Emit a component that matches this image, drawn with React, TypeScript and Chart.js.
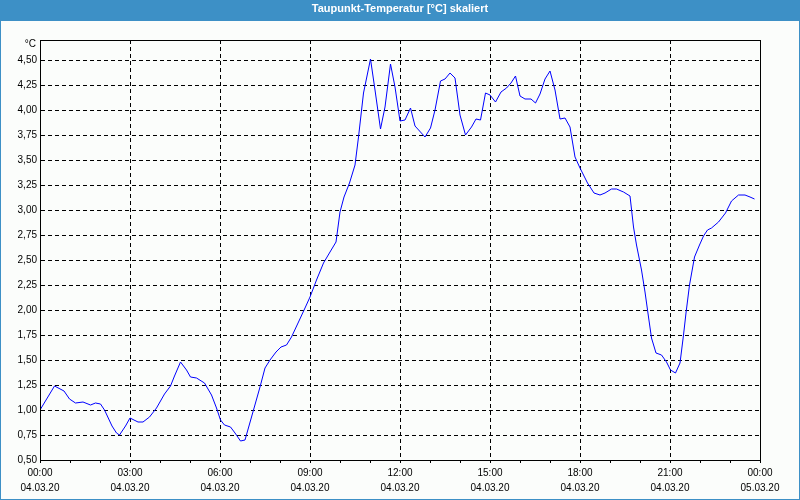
import React, { useEffect, useRef } from "react";
import { Chart, registerables } from "chart.js";

Chart.register(...registerables);

const TITLE = "Taupunkt-Temperatur [°C] skaliert";
const UNIT = "°C";

// minutes since 04.03.20 00:00
const times = [
  0, 29, 48, 59, 71, 86, 101, 111, 121, 129, 144, 153, 159, 171, 180, 196, 206, 219, 233, 249,
  261, 269, 281, 293, 301, 313, 329, 343, 353, 361, 369, 381, 390, 401, 410, 427, 440, 450, 460, 472,
  482, 493, 503, 517, 530, 540, 553, 567, 580, 592, 600, 608, 619, 630, 637, 647, 661, 670, 681, 690,
  701, 710, 720, 730, 741, 750, 770, 781, 790, 801, 810, 820, 830, 840, 851, 863, 872, 881, 891, 900,
  911, 922, 933, 942, 951, 960, 970, 982, 991, 1000, 1010, 1020, 1030, 1040, 1050, 1060, 1070, 1080, 1095, 1108,
  1120, 1130, 1143, 1153, 1167, 1180, 1187, 1193, 1203, 1210, 1217, 1223, 1232, 1243, 1253, 1261, 1271, 1280, 1287, 1292,
  1299, 1309, 1319, 1327, 1335, 1343, 1357, 1371, 1383, 1397, 1410, 1420, 1429,
];

const dewPoint = [
  1.0, 1.24, 1.19, 1.11, 1.07, 1.08, 1.05, 1.07, 1.06, 1.0, 0.84, 0.77, 0.75, 0.84, 0.92, 0.88, 0.88, 0.93, 1.02, 1.16,
  1.24, 1.34, 1.48, 1.4, 1.33, 1.32, 1.27, 1.15, 1.02, 0.9, 0.85, 0.83, 0.77, 0.69, 0.7, 1.0, 1.23, 1.42, 1.5, 1.58,
  1.63, 1.65, 1.73, 1.88, 2.02, 2.13, 2.3, 2.47, 2.58, 2.68, 2.98, 3.13, 3.27, 3.45, 3.73, 4.17, 4.51, 4.2, 3.81, 4.03,
  4.46, 4.23, 3.89, 3.9, 4.02, 3.84, 3.73, 3.82, 4.0, 4.29, 4.31, 4.37, 4.32, 3.95, 3.75, 3.83, 3.91, 3.9, 4.17, 4.15,
  4.08, 4.18, 4.22, 4.27, 4.34, 4.14, 4.11, 4.11, 4.07, 4.16, 4.31, 4.39, 4.2, 3.91, 3.92, 3.83, 3.53, 3.42, 3.27, 3.17,
  3.15, 3.17, 3.21, 3.21, 3.18, 3.14, 2.83, 2.65, 2.4, 2.18, 1.93, 1.72, 1.57, 1.55, 1.48, 1.4, 1.37, 1.47, 1.75, 1.97,
  2.25, 2.53, 2.65, 2.74, 2.8, 2.82, 2.88, 2.97, 3.09, 3.15, 3.15, 3.13, 3.11,
];

const xTickTimes = [0, 180, 360, 540, 720, 900, 1080, 1260, 1440];
const xTickClock = ["00:00", "03:00", "06:00", "09:00", "12:00", "15:00", "18:00", "21:00", "00:00"];
const xTickDates = ["04.03.20", "04.03.20", "04.03.20", "04.03.20", "04.03.20", "04.03.20", "04.03.20", "04.03.20", "05.03.20"];

const FONT = "'Liberation Sans', Arial, sans-serif";
const BAR = "#3d90c6";

export default function App() {
  const ref = useRef<HTMLCanvasElement | null>(null);

  useEffect(() => {
    if (!ref.current) return;
    const framePlugin = {
      id: "frame",
      beforeDraw(chart: any) {
        const c = chart.ctx;
        c.save();
        c.fillStyle = "#fbfdfb";
        c.fillRect(0, 0, chart.width, chart.height);
        c.fillStyle = BAR;
        c.fillRect(0, 0, chart.width, 21);
        c.restore();
      },
      afterDraw(chart: any) {
        const c = chart.ctx;
        const a = chart.chartArea;
        c.save();
        c.strokeStyle = "#000";
        c.lineWidth = 1;
        c.setLineDash([]);
        c.strokeRect(Math.round(a.left) + 0.5, Math.round(a.top) + 0.5, Math.round(a.right - a.left), Math.round(a.bottom - a.top));
        c.strokeStyle = BAR;
        c.strokeRect(0.5, 0.5, chart.width - 1, chart.height - 1);
        c.fillStyle = "#000";
        c.font = `10px ${FONT}`;
        c.textAlign = "right";
        c.textBaseline = "middle";
        c.fillText(UNIT, a.left - 4, a.top + 4);
        c.restore();
      },
    };

    const chart = new Chart(ref.current, {
      type: "line",
      data: {
        datasets: [
          {
            data: times.map((t, i) => ({ x: t, y: dewPoint[i] })),
            borderColor: "#0000ff",
            borderWidth: 1,
            pointRadius: 0,
            tension: 0,
            fill: false,
          },
        ],
      },
      options: {
        animation: false,
        responsive: false,
        devicePixelRatio: 1,
        layout: { padding: 0 },
        plugins: {
          legend: { display: false },
          tooltip: { enabled: false },
          title: {
            display: true,
            text: TITLE,
            color: "#ffffff",
            font: { family: FONT, size: 11, weight: "bold", lineHeight: 1.2 },
            padding: { top: 2.5, bottom: 24.3 },
          },
        },
        scales: {
          x: {
            type: "linear",
            min: 0,
            max: 1440,
            afterFit(scale: any) {
              scale.height = 40;
            },
            afterBuildTicks(scale: any) {
              const ticks = [];
              for (let m = 0; m <= 1440; m += 60) ticks.push({ value: m });
              scale.ticks = ticks;
            },
            ticks: {
              autoSkip: false,
              maxRotation: 0,
              padding: 2,
              color: "#000",
              font: { family: FONT, size: 10, lineHeight: 1.55 },
              callback(value: any) {
                const i = xTickTimes.indexOf(Number(value));
                return i >= 0 ? [xTickClock[i], xTickDates[i]] : "";
              },
            },
            grid: {
              color: (ctx: any) => (ctx.tick && ctx.tick.value % 180 === 0 ? "#000" : "rgba(0,0,0,0)"),
              lineWidth: 1,
              drawTicks: true,
              tickLength: 3,
              tickColor: "#000",
              tickBorderDash: [],
            },
            border: { display: true, color: "#000", width: 1, dash: [4, 3] },
          },
          y: {
            type: "linear",
            min: 0.5,
            max: 4.7,
            afterFit(scale: any) {
              scale.width = 40;
            },
            afterBuildTicks(scale: any) {
              scale.ticks = scale.ticks.filter((t: any) => t.value <= 4.5001);
            },
            ticks: {
              stepSize: 0.25,
              padding: 3,
              color: "#000",
              font: { family: FONT, size: 10 },
              callback(value: any) {
                return Number(value).toFixed(2).replace(".", ",");
              },
            },
            grid: {
              color: "#000",
              lineWidth: 1,
              drawTicks: false,
            },
            border: { display: true, color: "#000", width: 1, dash: [4, 3] },
          },
          y2: {
            type: "linear",
            position: "right",
            display: true,
            afterFit(scale: any) {
              scale.width = 40;
            },
            ticks: { display: false },
            grid: { display: false, drawTicks: false },
            border: { display: false },
          },
        },
      },
      plugins: [framePlugin],
    } as any);
    return () => chart.destroy();
  }, []);

  return (
    <div style={{ position: "absolute", left: 0, top: 0, width: 800, height: 500 }}>
      <canvas ref={ref} width={800} height={500} style={{ display: "block", width: 800, height: 500 }} />
    </div>
  );
}
